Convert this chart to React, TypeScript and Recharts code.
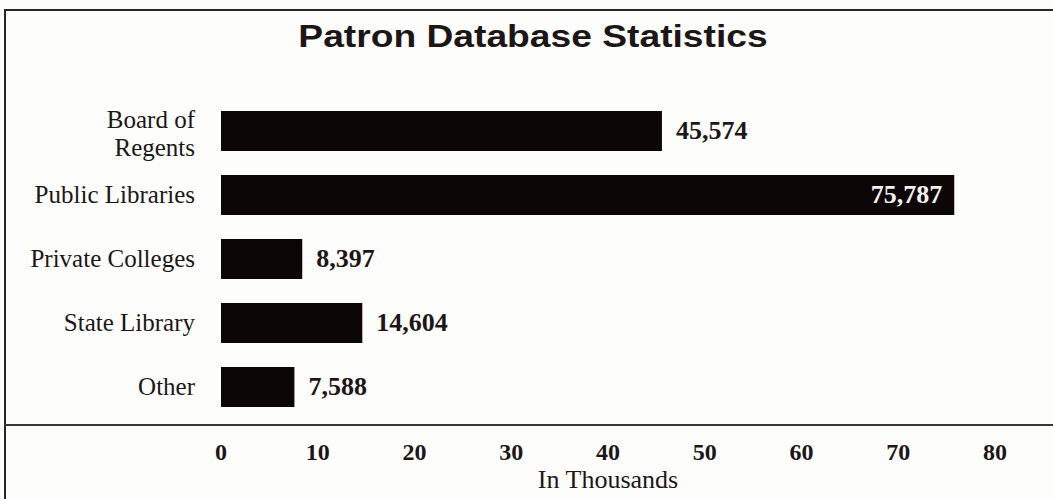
import { BarChart, Bar, XAxis, YAxis, LabelList } from 'recharts';

const categories = ['Board of Regents', 'Public Libraries', 'Private Colleges', 'State Library', 'Other'];
const patrons = [45574, 75787, 8397, 14604, 7588];
const xTicks = [0, 10, 20, 30, 40, 50, 60, 70, 80];

const chartData = categories.map((name, i) => ({
  name,
  value: patrons[i] / 1000,
  raw: patrons[i],
}));

const INK = '#1c1616';
const BAR = '#0c0606';
const SERIF = '"Liberation Serif", "Times New Roman", serif';

// category labels: Board of Regents breaks onto two lines
function CategoryTick(props: any) {
  const { x, y, payload } = props;
  const lines = payload.value === 'Board of Regents' ? ['Board of', 'Regents'] : [payload.value];
  const first = y + 8 - (lines.length - 1) * 11;
  return (
    <text x={x} y={first} textAnchor="end" fill={INK} fontFamily={SERIF} fontSize={25}>
      {lines.map((l, i) => (
        <tspan key={l} x={x} dy={i === 0 ? 0 : 28}>
          {l}
        </tspan>
      ))}
    </text>
  );
}

// values sit right of the bar, or inside it in white when the bar is long
function ValueLabel(props: any) {
  const { x, y, width, height, index } = props;
  const raw = patrons[index];
  const text = raw.toLocaleString('en-US');
  const inside = raw > 70000;
  return (
    <text
      x={inside ? x + width - 12 : x + width + 14}
      y={y + height / 2}
      dy={8}
      textAnchor={inside ? 'end' : 'start'}
      fill={inside ? '#f4f0ee' : INK}
      fontFamily={SERIF}
      fontWeight={700}
      fontSize={26}
    >
      {text}
    </text>
  );
}

export default function App() {
  return (
    <div style={{ position: 'absolute', left: 0, top: 0, width: 1053, height: 499, background: '#fdfdfc', overflow: 'hidden' }}>
      <div style={{ position: 'absolute', left: 4, top: 9, width: 1049, height: 2, background: '#2a2626' }} />
      <div style={{ position: 'absolute', left: 4, top: 9, width: 2, height: 490, background: '#2a2626' }} />
      <div style={{ position: 'absolute', left: 4, top: 424, width: 1049, height: 2, background: '#3a3636' }} />
      <div
        style={{
          position: 'absolute',
          left: 233,
          top: 19,
          width: 600,
          textAlign: 'center',
          fontFamily: '"Liberation Sans", Arial, sans-serif',
          fontWeight: 700,
          fontSize: 31,
          color: INK,
          transform: 'scaleX(1.2)',
        }}
      >
        Patron Database Statistics
      </div>
      <BarChart
        width={1053}
        height={499}
        data={chartData}
        layout="vertical"
        margin={{ top: 99, right: 58, left: 0, bottom: 0 }}
        style={{ position: 'absolute', left: 0, top: 0 }}
      >
        <XAxis
          type="number"
          dataKey="value"
          domain={[0, 80]}
          ticks={xTicks}
          height={80}
          axisLine={false}
          tickLine={false}
          tickSize={0}
          tickMargin={24}
          tick={{ fill: INK, fontFamily: SERIF, fontWeight: 700, fontSize: 24 }}
          label={{
            value: 'In Thousands',
            position: 'insideBottom',
            offset: 11,
            fill: INK,
            fontFamily: SERIF,
            fontSize: 26,
          }}
        />
        <YAxis
          type="category"
          dataKey="name"
          width={221}
          axisLine={false}
          tickLine={false}
          tickSize={0}
          tickMargin={26}
          tick={<CategoryTick />}
          interval={0}
        />
        <Bar dataKey="value" fill={BAR} barSize={40} isAnimationActive={false}>
          <LabelList dataKey="raw" content={<ValueLabel />} />
        </Bar>
      </BarChart>
    </div>
  );
}
